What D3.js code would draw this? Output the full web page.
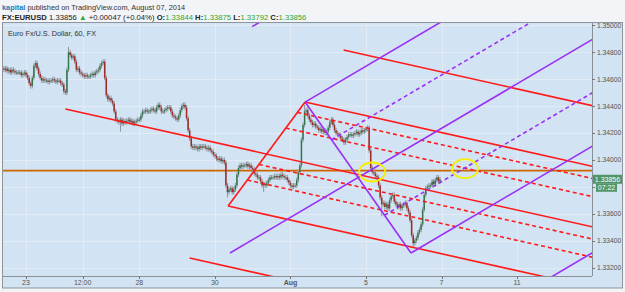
<!DOCTYPE html>
<html>
<head>
<meta charset="utf-8">
<script src="https://cdn.jsdelivr.net/npm/d3@7"></script>
<style>
  html, body { margin: 0; padding: 0; background: #f2f4f7; }
  svg { display: block; font-family: "Liberation Sans", Arial, sans-serif; }
</style>
</head>
<body>
<svg id="chart" width="625" height="292"></svg>
<script>
// EURUSD 60 min closes, bar 0 = Jul 22 morning, last bar = Aug 7 07:00
const closes = [
  1.3468, 1.3467, 1.3468, 1.3466, 1.3467, 1.3465, 1.3467, 1.3466, 1.3465, 1.3465,
  1.3465, 1.3465, 1.3463, 1.3464, 1.3465, 1.3463, 1.3461, 1.3457, 1.3455, 1.3461,
  1.3470, 1.3472, 1.3468, 1.3464, 1.3461, 1.3459, 1.3460, 1.3459, 1.3459, 1.3458,
  1.3459, 1.3459, 1.3460, 1.3459, 1.3458, 1.3459, 1.3459, 1.3457, 1.3456, 1.3451,
  1.3450, 1.3467, 1.3480, 1.3478, 1.3476, 1.3477, 1.3473, 1.3467, 1.3468, 1.3465,
  1.3464, 1.3463, 1.3462, 1.3463, 1.3462, 1.3462, 1.3463, 1.3464, 1.3463, 1.3465,
  1.3466, 1.3467, 1.3470, 1.3472, 1.3473, 1.3461, 1.3448, 1.3445, 1.3446, 1.3444,
  1.3442, 1.3436, 1.3430, 1.3429, 1.3428, 1.3430, 1.3427, 1.3429, 1.3428, 1.3429,
  1.3430, 1.3428, 1.3429, 1.3427, 1.3428, 1.3429, 1.3430, 1.3430, 1.3433, 1.3436,
  1.3436, 1.3437, 1.3436, 1.3436, 1.3437, 1.3438, 1.3437, 1.3436, 1.3439, 1.3441,
  1.3439, 1.3436, 1.3436, 1.3437, 1.3438, 1.3439, 1.3439, 1.3436, 1.3433, 1.3432,
  1.3431, 1.3430, 1.3433, 1.3437, 1.3440, 1.3441, 1.3439, 1.3431, 1.3422, 1.3416,
  1.3410, 1.3409, 1.3410, 1.3409, 1.3408, 1.3410, 1.3409, 1.3410, 1.3410, 1.3409,
  1.3408, 1.3409, 1.3407, 1.3406, 1.3404, 1.3403, 1.3401, 1.3400, 1.3401, 1.3399,
  1.3400, 1.3398, 1.3381, 1.3376, 1.3378, 1.3379, 1.3376, 1.3378, 1.3381, 1.3389,
  1.3394, 1.3396, 1.3395, 1.3396, 1.3396, 1.3397, 1.3395, 1.3396, 1.3394, 1.3393,
  1.3390, 1.3389, 1.3387, 1.3387, 1.3384, 1.3381, 1.3382, 1.3381, 1.3383, 1.3385,
  1.3387, 1.3387, 1.3387, 1.3388, 1.3387, 1.3388, 1.3387, 1.3389, 1.3388, 1.3387,
  1.3387, 1.3385, 1.3383, 1.3381, 1.3380, 1.3381, 1.3381, 1.3385, 1.3391, 1.3396,
  1.3415, 1.3426, 1.3436, 1.3437, 1.3433, 1.3430, 1.3428, 1.3426, 1.3427, 1.3425,
  1.3424, 1.3422, 1.3423, 1.3421, 1.3422, 1.3420, 1.3421, 1.3424, 1.3428, 1.3430,
  1.3426, 1.3422, 1.3420, 1.3419, 1.3418, 1.3416, 1.3415, 1.3413, 1.3415, 1.3417,
  1.3419, 1.3419, 1.3418, 1.3419, 1.3420, 1.3421, 1.3419, 1.3420, 1.3422, 1.3421,
  1.3422, 1.3423, 1.3424, 1.3407, 1.3394, 1.3391, 1.3390, 1.3388, 1.3387, 1.3381,
  1.3372, 1.3367, 1.3368, 1.3365, 1.3367, 1.3364, 1.3370, 1.3373, 1.3374, 1.3369,
  1.3367, 1.3365, 1.3367, 1.3364, 1.3366, 1.3367, 1.3368, 1.3364, 1.3361, 1.3355,
  1.3344, 1.3338, 1.3340, 1.3342, 1.3346, 1.3348, 1.3352, 1.3363, 1.3374, 1.3379,
  1.3380, 1.3381, 1.3381, 1.3384, 1.3382, 1.3385, 1.3387, 1.3384, 1.33856
];
const firstOpen = 1.3469;

// long wicks [bar, extreme price]
const spikes = [
  [18, 1.3453], [42, 1.3484], [75, 1.3421], [99, 1.3442], [143, 1.3372],
  [166, 1.3376], [192, 1.3441], [217, 1.3411], [241, 1.3358], [261, 1.3335]
];

const yTicks = [1.332, 1.334, 1.336, 1.338, 1.340, 1.342, 1.344, 1.346, 1.348, 1.350];
const xTicks = [[15, "23"], [51, "12:00"], [87, "28"], [135, "30"], [183, "Aug"], [231, "5"], [279, "7"], [327, "11"]];

// drawings: [bar, price]
const hLinePrice = 1.3392;
const redFork = [[40, 1.34378], [192.3, 1.34430], [143.4, 1.33657]];
const redLevels = [2, 1, 0.8, 0.5, -0.2, -0.5, -1, -2];
const purpleFork = [[144.6, 1.33308], [192.3, 1.34430], [259.6, 1.33308]];
const purpleLevels = [2, 1, 0.5, -0.5, -1, -2];
const circles = [[234.9, 1.33910], [293.9, 1.33935]];

const lastPrice = 1.33856;

const plot = { left: 3, right: 592, top: 23, bottom: 276 };

const svg = d3.select("#chart");

const x = d3.scaleLinear().domain([0, 374.6]).range([2.4, 592]);
const y = d3.scaleLinear().domain([1.332, 1.350]).range([267.5, 25.4]);

// header
const head1 = svg.append("text").attr("x", 2).attr("y", 10).attr("font-size", 7.4).attr("fill", "#333");
head1.append("tspan").attr("fill", "#2b7bb9").attr("font-weight", "bold").text("kapital");
head1.append("tspan").text(" published on TradingView.com, August 07, 2014");

const head2 = svg.append("text").attr("x", 2).attr("y", 19.5).attr("font-size", 7.7).attr("fill", "#222");
const green = "#2ea52e";
[
  ["FX:EURUSD", "#222", "bold"], [" 1.33856 ", "#222"], ["\u25B2", green], [" +0.00047 (+0.04%) ", "#222"],
  ["O:", "#222", "bold"], ["1.33844", green], [" H:", "#222", "bold"], ["1.33875", green],
  [" L:", "#222", "bold"], ["1.33792", green], [" C:", "#222", "bold"], ["1.33856", green]
].forEach(([t, c, w]) => head2.append("tspan").attr("fill", c).attr("font-weight", w || "normal").text(t));

// frame
svg.append("rect")
  .attr("x", 2.5).attr("y", 22.5).attr("width", 620).attr("height", 265.5)
  .attr("fill", "#d2e3f3").attr("stroke", "#8d949b");

const defs = svg.append("defs");
defs.append("clipPath").attr("id", "plotclip")
  .append("rect")
  .attr("x", plot.left).attr("y", plot.top)
  .attr("width", plot.right - plot.left).attr("height", plot.bottom - plot.top);
defs.append("clipPath").attr("id", "axclip")
  .append("rect").attr("x", plot.right).attr("y", plot.top)
  .attr("width", 32).attr("height", plot.bottom - plot.top + 6);

const grid = svg.append("g").attr("clip-path", "url(#plotclip)");
grid.selectAll(".hg").data(yTicks).join("line")
  .attr("x1", plot.left).attr("x2", plot.right)
  .attr("y1", d => Math.round(y(d)) + 0.5).attr("y2", d => Math.round(y(d)) + 0.5)
  .attr("stroke", "#e3ebf4").attr("stroke-width", 1);
grid.selectAll(".vg").data(xTicks).join("line")
  .attr("x1", d => Math.round(x(d[0])) + 0.5).attr("x2", d => Math.round(x(d[0])) + 0.5)
  .attr("y1", plot.top).attr("y2", plot.bottom)
  .attr("stroke", "#e3ebf4").attr("stroke-width", 1);

svg.append("text")
  .attr("x", 8).attr("y", 35.5)
  .attr("font-size", 7.3).attr("fill", "#333")
  .text("Euro Fx/U.S. Dollar, 60, FX");

const main = svg.append("g").attr("clip-path", "url(#plotclip)");

// horizontal line
main.append("line")
  .attr("x1", plot.left).attr("x2", plot.right)
  .attr("y1", y(hLinePrice)).attr("y2", y(hLinePrice))
  .attr("stroke", "#cc6600").attr("stroke-width", 1.6);

// candles
const bars = closes.map((c, i) => {
  const o = i === 0 ? firstOpen : closes[i - 1];
  let hi = Math.max(o, c) + 0.00018;
  let lo = Math.min(o, c) - 0.00018;
  spikes.filter(s => s[0] === i).forEach(s => { hi = Math.max(hi, s[1]); lo = Math.min(lo, s[1]); });
  return { i, o, c, hi, lo };
});

const cg = main.append("g");
cg.selectAll(".wick").data(bars).join("line")
  .attr("x1", d => x(d.i)).attr("x2", d => x(d.i))
  .attr("y1", d => y(d.hi)).attr("y2", d => y(d.lo))
  .attr("stroke", "#8a949e").attr("stroke-width", 1);
cg.selectAll(".body").data(bars).join("rect")
  .attr("x", d => x(d.i) - 0.75).attr("width", 1.5)
  .attr("y", d => y(Math.max(d.o, d.c)))
  .attr("height", d => Math.max(1, Math.abs(y(d.o) - y(d.c))))
  .attr("fill", d => d.c >= d.o ? "#35754c" : "#a02a25");

// pitchforks
function drawFork(g, pts, levels, color) {
  const [p1, p2, p3] = pts.map(([i, p]) => [x(i), y(p)]);
  const m = [(p2[0] + p3[0]) / 2, (p2[1] + p3[1]) / 2];
  const d = [m[0] - p1[0], m[1] - p1[1]];
  const t = 1200 / d[0];
  const seg = (a, b, dashed) => g.append("line")
    .attr("x1", a[0]).attr("y1", a[1]).attr("x2", b[0]).attr("y2", b[1])
    .attr("stroke", color).attr("stroke-width", 1.6)
    .attr("stroke-dasharray", dashed ? "4,3" : null);
  seg(p2, p3, false);
  seg(p1, [p1[0] + d[0] * t, p1[1] + d[1] * t], false);
  levels.forEach(k => {
    const q = [m[0] + k * (p2[0] - m[0]), m[1] + k * (p2[1] - m[1])];
    seg(q, [q[0] + d[0] * t, q[1] + d[1] * t], Math.abs(k) < 1);
  });
}
drawFork(main.append("g"), redFork, redLevels, "#ff1a1a");
drawFork(main.append("g"), purpleFork, purpleLevels, "#9b30f5");

main.selectAll(".mark").data(circles).join("ellipse")
  .attr("cx", d => x(d[0])).attr("cy", d => y(d[1]))
  .attr("rx", 13).attr("ry", 9.5)
  .attr("fill", "none").attr("stroke", "#f5f000").attr("stroke-width", 1.8);

// axes
svg.append("line").attr("x1", plot.right + 0.5).attr("x2", plot.right + 0.5)
  .attr("y1", plot.top).attr("y2", plot.bottom).attr("stroke", "#8a9097");
svg.append("line").attr("x1", plot.left).attr("x2", plot.right)
  .attr("y1", plot.bottom + 0.5).attr("y2", plot.bottom + 0.5).attr("stroke", "#8a9097");

// y labels that would sit under the last-price tag are hidden, as on the site
const ly = y(lastPrice);
const yLabelTicks = yTicks.filter(d => Math.abs(y(d) - ly) > 10);

const yAxis = svg.append("g").attr("clip-path", "url(#axclip)");
yAxis.selectAll(".yt").data(yTicks).join("line")
  .attr("x1", plot.right).attr("x2", plot.right + 3)
  .attr("y1", d => Math.round(y(d)) + 0.5).attr("y2", d => Math.round(y(d)) + 0.5)
  .attr("stroke", "#777");
yAxis.selectAll(".yl").data(yLabelTicks).join("text")
  .attr("x", plot.right + 5).attr("y", d => y(d) + 2.4)
  .attr("font-size", 6.7).attr("fill", "#555")
  .text(d => d3.format(".5f")(d));

const xAxis = svg.append("g");
xAxis.selectAll(".xt").data(xTicks).join("line")
  .attr("x1", d => Math.round(x(d[0])) + 0.5).attr("x2", d => Math.round(x(d[0])) + 0.5)
  .attr("y1", plot.bottom).attr("y2", plot.bottom + 3)
  .attr("stroke", "#777");
xAxis.selectAll(".xl").data(xTicks).join("text")
  .attr("x", d => x(d[0])).attr("y", 285)
  .attr("text-anchor", "middle").attr("font-size", 7).attr("fill", "#555")
  .attr("font-weight", d => d[1] === "Aug" ? "bold" : "normal")
  .text(d => d[1]);

// last price tag
svg.append("rect").attr("x", 593).attr("y", ly - 4.5).attr("width", 29).attr("height", 9).attr("fill", "#4f9568");
svg.append("text").attr("x", 607.5).attr("y", ly + 2.5).attr("text-anchor", "middle")
  .attr("font-size", 7).attr("fill", "#fff").text("1.33856");
svg.append("rect").attr("x", 596).attr("y", ly + 4.5).attr("width", 21).attr("height", 8).attr("fill", "#4f9568");
svg.append("text").attr("x", 606.5).attr("y", ly + 11).attr("text-anchor", "middle")
  .attr("font-size", 7).attr("fill", "#fff").text("07:22");
</script>
</body>
</html>
